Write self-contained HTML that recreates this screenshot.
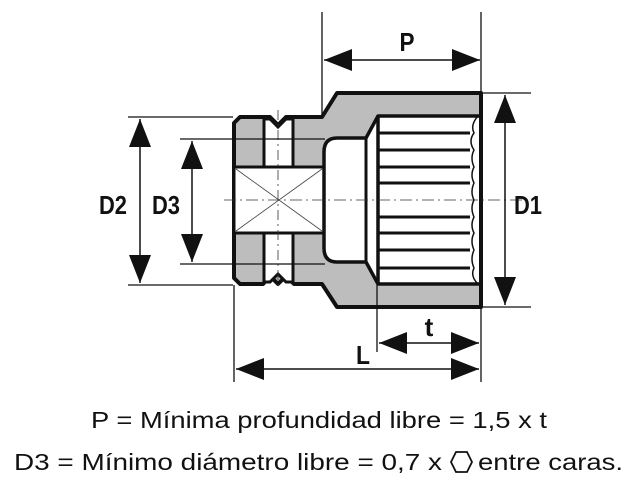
<!DOCTYPE html>
<html><head><meta charset="utf-8"><style>
html,body{margin:0;padding:0;background:#fff;}
svg{display:block;}
</style></head><body>
<svg width="639" height="494" viewBox="0 0 639 494" xmlns="http://www.w3.org/2000/svg" font-family="Liberation Sans, sans-serif">
<defs>
<marker id="a" viewBox="0 0 28 22" refX="28" refY="11" markerWidth="28" markerHeight="22" markerUnits="userSpaceOnUse" orient="auto-start-reverse"><path d="M0,0 L28,11 L0,22 z" fill="#111"/></marker>
</defs>
<path d="M234,123 L240,117 L263,117 L270,117 L278,125 L286,117 L322,117 L337,93 L481,93 L481,307 L337,307 L322,284 L294,284 L286,276 L278,284 L270,276 L263,284 L240,284 L234,278 Z" fill="#bdbdbd" stroke="#111" stroke-width="4" stroke-linejoin="round"/>
<path d="M264,119 L270,119 L278,127 L286,119 L293,119 L293,167 L264,167 Z" fill="#fff" stroke="#111" stroke-width="3"/>
<path d="M264,282 L270,282 L278,274 L286,282 L293,282 L293,233 L264,233 Z" fill="#fff" stroke="#111" stroke-width="3"/>
<rect x="234" y="167" width="90" height="66" fill="#fff" stroke="#111" stroke-width="3"/>
<line x1="236" y1="169" x2="322" y2="231" stroke="#444" stroke-width="0.8"/>
<line x1="236" y1="231" x2="322" y2="169" stroke="#444" stroke-width="0.8"/>
<path d="M337,138 L366,138 L378,116 L478,116 L481,116 L481,284 L378,284 L366,262 L337,262 Q324,262 324,248 L324,152 Q324,138 337,138 Z" fill="#fff" stroke="#111" stroke-width="3.5" stroke-linejoin="round"/>
<line x1="366" y1="138" x2="366" y2="262" stroke="#111" stroke-width="3"/>
<line x1="378" y1="116" x2="378" y2="284" stroke="#111" stroke-width="3.5"/>
<g stroke="#111" stroke-width="3">
<line x1="378" y1="133" x2="470" y2="133"/><line x1="378" y1="150" x2="470" y2="150"/>
<line x1="378" y1="167" x2="470" y2="167"/><line x1="378" y1="183" x2="470" y2="183"/>
<line x1="378" y1="217" x2="470" y2="217"/><line x1="378" y1="233" x2="470" y2="233"/>
<line x1="378" y1="250" x2="470" y2="250"/><line x1="378" y1="268" x2="470" y2="268"/>
</g>
<path d="M478,116 Q470,125 474,133 Q468,141 474,150 Q470,158 474,167 Q470,175 474,183 Q470,192 474,200 Q470,208 474,217 Q470,225 474,233 Q470,241 474,250 Q470,259 474,268 Q470,276 478,284" fill="none" stroke="#111" stroke-width="1.5"/>
<line x1="481" y1="93" x2="481" y2="307" stroke="#111" stroke-width="4"/>
<line x1="224" y1="200" x2="530" y2="200" stroke="#333" stroke-width="0.8" stroke-dasharray="12,4,2,4"/>
<line x1="278" y1="110" x2="278" y2="290" stroke="#333" stroke-width="0.8" stroke-dasharray="10,4,2,4"/>
<g stroke="#111" stroke-width="1.3">
<line x1="322" y1="12" x2="322" y2="118"/><line x1="481" y1="12" x2="481" y2="93"/>
<line x1="481" y1="93" x2="531" y2="93"/><line x1="481" y1="307" x2="531" y2="307"/>
<line x1="128" y1="117" x2="233" y2="117"/><line x1="128" y1="285" x2="233" y2="285"/>
<line x1="180" y1="139" x2="325" y2="139"/><line x1="180" y1="264" x2="325" y2="264"/>
<line x1="377" y1="285" x2="377" y2="352"/><line x1="481" y1="307" x2="481" y2="382"/>
<line x1="234" y1="285" x2="234" y2="382"/>
</g>
<g stroke="#111" stroke-width="1.5" marker-start="url(#a)" marker-end="url(#a)">
<line x1="324" y1="60" x2="480" y2="60"/>
<line x1="505" y1="95" x2="505" y2="305"/>
<line x1="140" y1="119" x2="140" y2="283"/>
<line x1="192" y1="141" x2="192" y2="262"/>
<line x1="379" y1="343" x2="479" y2="343"/>
<line x1="236" y1="369" x2="479" y2="369"/>
</g>
<g font-weight="bold" font-size="26" fill="#111" text-anchor="middle">
<text x="407" y="51" textLength="15" lengthAdjust="spacingAndGlyphs">P</text>
<text x="528" y="214" textLength="28" lengthAdjust="spacingAndGlyphs">D1</text>
<text x="113" y="214" textLength="28" lengthAdjust="spacingAndGlyphs">D2</text>
<text x="166" y="214" textLength="28" lengthAdjust="spacingAndGlyphs">D3</text>
<text x="429" y="336">t</text>
<text x="363" y="364" textLength="14" lengthAdjust="spacingAndGlyphs">L</text>
</g>
<text x="319" y="428" font-size="23" fill="#111" text-anchor="middle" textLength="456" lengthAdjust="spacingAndGlyphs">P = Mínima profundidad libre = 1,5 x t</text>
<text x="14" y="470" font-size="23" fill="#111" textLength="428" lengthAdjust="spacingAndGlyphs">D3 = Mínimo diámetro libre = 0,7 x</text>
<polygon points="451,462 456,452 467,452 472,462 467,472 456,472" fill="none" stroke="#111" stroke-width="1.8"/>
<text x="478" y="470" font-size="23" fill="#111" textLength="145" lengthAdjust="spacingAndGlyphs">entre caras.</text>
</svg>
</body></html>
